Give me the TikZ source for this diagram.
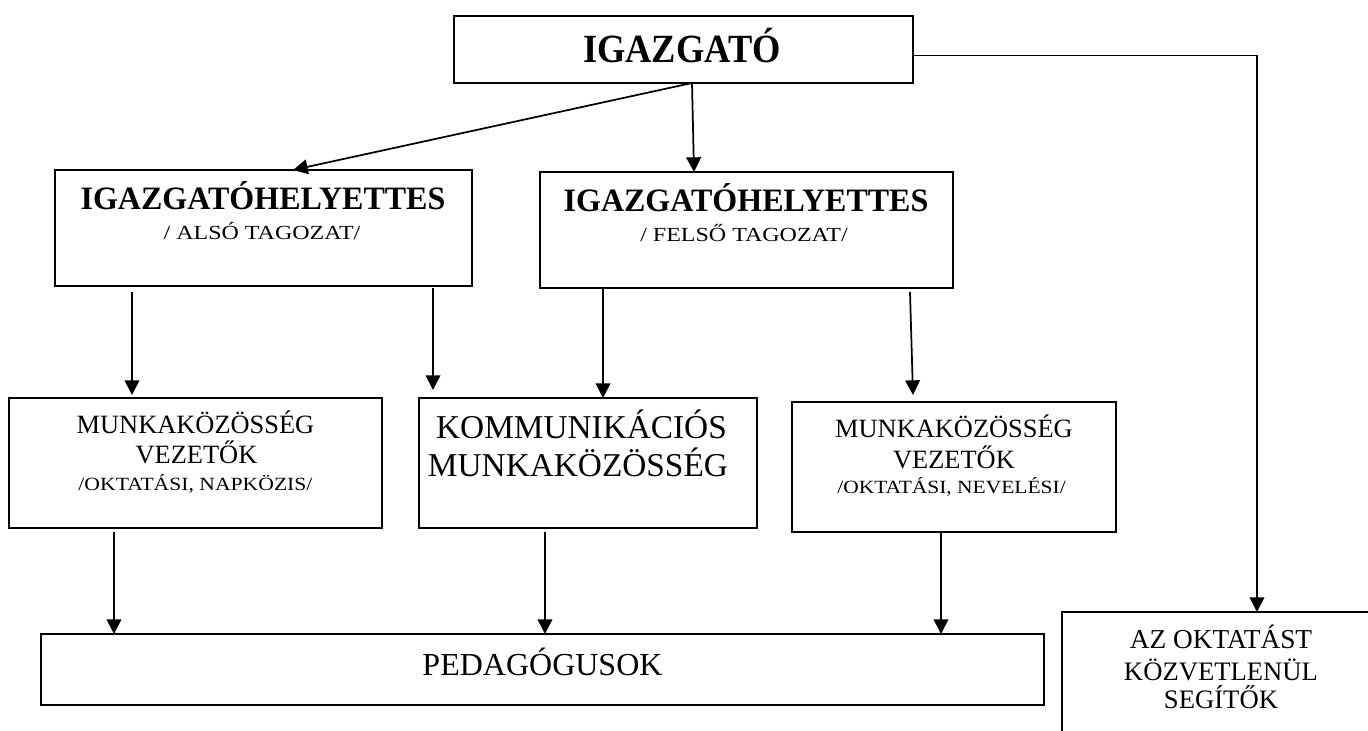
\documentclass[tikz,border=0pt]{standalone}
\usepackage{fontspec}
\usepackage{graphicx}
\setmainfont{Liberation Serif}
\usetikzlibrary{arrows.meta,calc,fit}
\newcommand{\hsc}[2]{\scalebox{#1}[1]{#2}}
\begin{document}
\begin{tikzpicture}[x=0.75pt,y=-0.75pt,
  box/.style={draw=black, line width=1.5pt, inner sep=0pt, outer sep=0pt, rectangle},
  lbl/.style={anchor=base, inner sep=0pt, outer sep=0pt},
  conn/.style={line width=1.3pt, -{Triangle[length=11pt,width=11pt]}}]
\useasboundingbox (0,0) rectangle (1368,731);
\clip (0,0) rectangle (1368,731);
% boxes
\node[box, fit={(454,16) (913,83)}] (igz) {};
\node[box, fit={(55,170) (472,286)}] (lv) {};
\node[box, fit={(540,172) (953,288)}] (mv) {};
\node[box, fit={(9,398) (382,528)}] (mv1) {};
\node[box, fit={(419,398) (757,528)}] (km) {};
\node[box, fit={(792,402) (1116,532)}] (mv2) {};
\node[box, fit={(41,634) (1044,705)}] (ped) {};
\node[box, fit={(1062,612) (1380,770)}] (aos) {};
% texts
\node[lbl] (tigz) at (682,63) {\fontsize{30}{36}\selectfont\bfseries\hsc{0.91}{IGAZGATÓ}};
\node[lbl] (tlv1) at (263,210) {\fontsize{24.5}{28}\selectfont\bfseries\hsc{0.98}{IGAZGATÓHELYETTES}};
\node[lbl] (tlv2) at (262,240) {\fontsize{15}{18}\selectfont\hsc{1.2}{/ ALSÓ TAGOZAT/}};
\node[lbl] (tmv1) at (746,212) {\fontsize{24.5}{28}\selectfont\bfseries\hsc{0.98}{IGAZGATÓHELYETTES}};
\node[lbl] (tmv2) at (744,242) {\fontsize{15}{18}\selectfont\hsc{1.2}{/ FELSŐ TAGOZAT/}};
\node[lbl] (ta1) at (195.5,433) {\fontsize{19.8}{23}\selectfont MUNKAKÖZÖSSÉG};
\node[lbl] (ta2) at (196.5,463) {\fontsize{19.8}{23}\selectfont VEZETŐK};
\node[lbl] (ta3) at (195.5,490) {\fontsize{14}{17}\selectfont\hsc{1.16}{/OKTATÁSI, NAPKÖZIS/}};
\node[lbl] (tk1) at (581.5,438) {\fontsize{25}{29}\selectfont KOMMUNIKÁCIÓS};
\node[lbl] (tk2) at (578,476) {\fontsize{25}{29}\selectfont MUNKAKÖZÖSSÉG};
\node[lbl] (tb1) at (954,437) {\fontsize{19.8}{23}\selectfont MUNKAKÖZÖSSÉG};
\node[lbl] (tb2) at (954,468) {\fontsize{19.8}{23}\selectfont VEZETŐK};
\node[lbl] (tb3) at (951.5,493) {\fontsize{14}{17}\selectfont\hsc{1.15}{/OKTATÁSI, NEVELÉSI/}};
\node[lbl] (tped) at (542.5,675) {\fontsize{24}{28}\selectfont PEDAGÓGUSOK};
\node[lbl] (tao1) at (1221,648) {\fontsize{20.5}{24}\selectfont AZ OKTATÁST};
\node[lbl] (tao2) at (1221,680) {\fontsize{20}{24}\selectfont KÖZVETLENÜL};
\node[lbl] (tao3) at (1221,708) {\fontsize{20}{24}\selectfont SEGÍTŐK};
% connectors
\draw[conn] ($(igz.south)+(8.5,0)$) -- ($(lv.north)+(29.5,0)$);
\draw[conn] ($(igz.south)+(8.5,0)$) -- ($(mv.north)+(-52.5,0)$);
\draw[conn] ($(igz.east)+(0,6)$) -| ($(aos.north)+(36,0)$);
\draw[conn] ($(lv.south)+(-131.5,6)$) -- ($(mv1.north)+(-63.5,-3)$);
\draw[conn] ($(lv.south)+(169.5,2)$) -- ($(km.north)+(-155,-8)$);
\draw[conn] ($(mv.south)+(-143.5,0)$) -- ($(km.north)+(15,0)$);
\draw[conn] ($(mv.south)+(163.5,4)$) -- ($(mv2.north)+(-41,-7)$);
\draw[conn] ($(mv1.south)+(-81.5,4)$) -- ($(ped.north)+(-428.5,0)$);
\draw[conn] ($(km.south)+(-43,4)$) -- ($(ped.north)+(2.5,0)$);
\draw[conn] ($(mv2.south)+(-13,0)$) -- ($(ped.north)+(398.5,0)$);
\end{tikzpicture}
\end{document}
